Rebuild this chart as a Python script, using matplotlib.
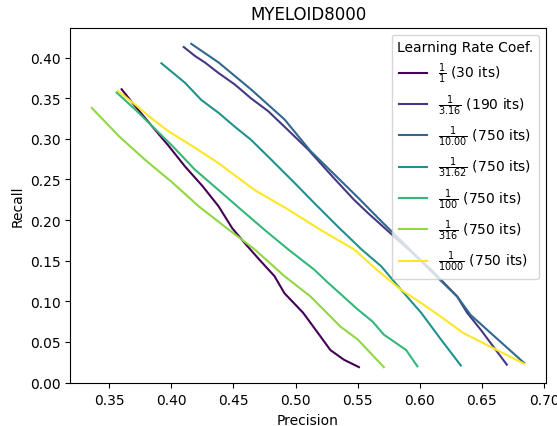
import matplotlib
matplotlib.use("Agg")
import matplotlib.pyplot as plt
import numpy as np

# precision / recall curves
p1 = [0.360, 0.371, 0.382, 0.398, 0.411, 0.425, 0.438, 0.449, 0.460, 0.471, 0.483, 0.491, 0.506, 0.518, 0.528, 0.539, 0.551]
r1 = [0.361, 0.340, 0.320, 0.291, 0.266, 0.242, 0.217, 0.190, 0.170, 0.151, 0.131, 0.110, 0.086, 0.061, 0.040, 0.028, 0.019]

p2 = [0.410, 0.419, 0.427, 0.438, 0.451, 0.464, 0.478, 0.491, 0.510, 0.530, 0.547, 0.558, 0.582, 0.609, 0.630, 0.638, 0.649, 0.670]
r2 = [0.413, 0.402, 0.394, 0.381, 0.367, 0.350, 0.334, 0.315, 0.287, 0.253, 0.225, 0.209, 0.176, 0.139, 0.106, 0.086, 0.065, 0.022]

p3 = [0.416, 0.438, 0.464, 0.491, 0.512, 0.530, 0.550, 0.570, 0.590, 0.609, 0.630, 0.641, 0.657, 0.684]
r3 = [0.417, 0.394, 0.361, 0.324, 0.285, 0.258, 0.228, 0.197, 0.167, 0.137, 0.106, 0.083, 0.061, 0.024]

p4 = [0.392, 0.411, 0.424, 0.438, 0.451, 0.464, 0.478, 0.499, 0.515, 0.534, 0.553, 0.569, 0.585, 0.601, 0.617, 0.633]
r4 = [0.393, 0.369, 0.348, 0.332, 0.315, 0.299, 0.278, 0.246, 0.221, 0.192, 0.164, 0.143, 0.114, 0.086, 0.053, 0.021]

p5 = [0.356, 0.371, 0.385, 0.401, 0.419, 0.438, 0.456, 0.475, 0.494, 0.515, 0.526, 0.550, 0.562, 0.571, 0.589, 0.598]
r5 = [0.357, 0.336, 0.315, 0.291, 0.262, 0.237, 0.213, 0.188, 0.164, 0.139, 0.123, 0.090, 0.075, 0.059, 0.040, 0.020]

p6 = [0.336, 0.358, 0.379, 0.401, 0.422, 0.443, 0.467, 0.491, 0.512, 0.536, 0.550, 0.571]
r6 = [0.338, 0.303, 0.274, 0.246, 0.217, 0.192, 0.164, 0.131, 0.106, 0.069, 0.053, 0.019]

p7 = [0.357, 0.371, 0.385, 0.398, 0.417, 0.438, 0.467, 0.494, 0.520, 0.547, 0.566, 0.585, 0.601, 0.617, 0.635, 0.657, 0.684]
r7 = [0.359, 0.342, 0.324, 0.309, 0.291, 0.270, 0.237, 0.213, 0.188, 0.164, 0.138, 0.114, 0.098, 0.081, 0.061, 0.044, 0.023]

labels = [r'$\frac{1}{1}$ (30 its)', r'$\frac{1}{3.16}$ (190 its)', r'$\frac{1}{10.00}$ (750 its)',
          r'$\frac{1}{31.62}$ (750 its)', r'$\frac{1}{100}$ (750 its)', r'$\frac{1}{316}$ (750 its)',
          r'$\frac{1}{1000}$ (750 its)']

curves = [(p1, r1), (p2, r2), (p3, r3), (p4, r4), (p5, r5), (p6, r6), (p7, r7)]
colors = plt.cm.viridis(np.linspace(0, 1, len(curves)))

fig, ax = plt.subplots(figsize=(5.57, 4.27), dpi=100)
fig.subplots_adjust(left=0.126, right=0.980, top=0.933, bottom=0.100)

for (p, r), c, lab in zip(curves, colors, labels):
    ax.plot(p, r, color=c, label=lab)

ax.set_title('MYELOID8000')
ax.set_xlabel('Precision')
ax.set_ylabel('Recall')
ax.legend(title='Learning Rate Coef.', loc='upper right')

fig.savefig('out.png', dpi=100)
